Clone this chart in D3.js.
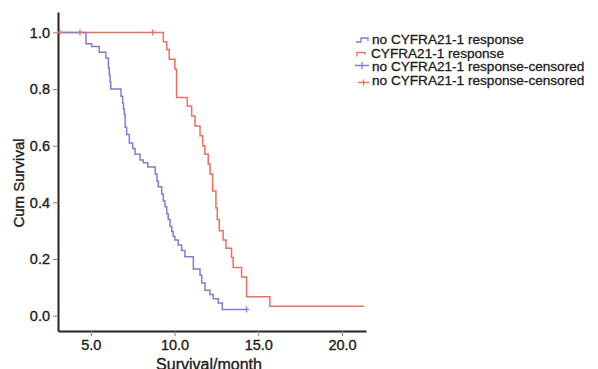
<!DOCTYPE html>
<html>
<head>
<meta charset="utf-8">
<script src="https://cdn.jsdelivr.net/npm/d3@7/dist/d3.min.js"></script>
<style>
  body { margin: 0; background: #fff; }
  svg { display: block; font-family: "Liberation Sans", Arial, sans-serif; }
</style>
</head>
<body>
<svg id="chart" width="598" height="369"></svg>
<script>
// step points: [time in months, cumulative survival after the event]
const startTime = 3.05;
const noResponse = [
  [4.71, 0.96], [5.05, 0.95], [5.50, 0.93], [5.90, 0.91], [6.05, 0.875],
  [6.10, 0.85], [6.15, 0.825], [6.19, 0.80], [6.80, 0.775], [6.90, 0.75],
  [6.95, 0.73], [7.00, 0.71], [7.05, 0.665], [7.14, 0.64], [7.30, 0.61],
  [7.50, 0.59], [7.64, 0.57], [7.94, 0.55], [8.13, 0.54], [8.40, 0.525],
  [8.85, 0.50], [8.95, 0.475], [9.03, 0.455], [9.23, 0.43], [9.33, 0.405],
  [9.43, 0.385], [9.53, 0.36], [9.62, 0.34], [9.73, 0.315], [9.83, 0.297],
  [9.92, 0.28], [10.02, 0.267], [10.22, 0.25], [10.42, 0.23], [10.62, 0.208],
  [11.12, 0.165], [11.52, 0.143], [11.62, 0.115], [11.82, 0.09], [12.11, 0.075],
  [12.31, 0.06], [12.61, 0.045], [12.85, 0.022]
];
const noResponseEnd = 14.3;
const response = [
  [9.33, 0.967], [9.53, 0.94], [9.68, 0.905], [10.02, 0.87], [10.12, 0.77],
  [10.76, 0.74], [11.02, 0.705], [11.22, 0.67], [11.52, 0.635], [11.68, 0.60],
  [11.81, 0.57], [12.01, 0.535], [12.12, 0.50], [12.27, 0.44], [12.47, 0.38],
  [12.55, 0.34], [12.67, 0.30], [12.90, 0.267], [13.07, 0.238], [13.40, 0.205],
  [13.50, 0.17], [14.00, 0.137], [14.30, 0.067], [15.69, 0.033]
];
const responseEnd = 21.3;
const censoredNoResponse = [[14.3, 0.022]];
const censoredResponse = [[3.15, 1.0], [4.35, 1.0], [8.7, 1.0]];

const xTicks = [5, 10, 15, 20];
const yTicks = [0, 0.2, 0.4, 0.6, 0.8, 1.0];
const legendLabels = [
  "no CYFRA21-1 response",
  "CYFRA21-1 response",
  "no CYFRA21-1 response-censored",
  "no CYFRA21-1 response-censored"
];

const blue = "#857bd4";
const red = "#ec6f60";
const axisColor = "#2e2118";
const textColor = "#1e1a17";

const svg = d3.select("#chart");

const x = d3.scaleLinear().domain([3.04, 21.43]).range([58, 366]);
const y = d3.scaleLinear().domain([-0.054, 1.072]).range([331, 12]);

const xAxis = svg.append("g")
  .attr("transform", "translate(0,331)")
  .call(d3.axisBottom(x).tickValues(xTicks).tickFormat(d3.format(".1f")).tickSize(5).tickSizeOuter(0).tickPadding(4));
const yAxis = svg.append("g")
  .attr("transform", "translate(58,0)")
  .call(d3.axisLeft(y).tickValues(yTicks).tickFormat(d3.format(".1f")).tickSize(5).tickSizeOuter(0).tickPadding(3));

[xAxis, yAxis].forEach(g => {
  g.select(".domain").attr("stroke", axisColor).attr("stroke-width", 2);
  g.selectAll(".tick line").attr("stroke", "#8a8078").attr("stroke-width", 1);
  g.selectAll(".tick text")
    .attr("fill", textColor)
    .attr("stroke", textColor)
    .attr("stroke-width", 0.35)
    .attr("font-size", 14.5)
    .attr("font-family", "Liberation Sans, Arial, sans-serif");
});

// axis titles
svg.append("text")
  .attr("transform", "translate(24,183) rotate(-90)")
  .attr("text-anchor", "middle")
  .attr("font-size", 15)
  .attr("fill", textColor)
  .attr("stroke", textColor)
  .attr("stroke-width", 0.35)
  .text("Cum Survival");

svg.append("text")
  .attr("x", 209)
  .attr("y", 369.5)
  .attr("text-anchor", "middle")
  .attr("font-size", 16)
  .attr("fill", textColor)
  .attr("stroke", textColor)
  .attr("stroke-width", 0.35)
  .text("Survival/month");

// survival curves
function stepPoints(steps, end) {
  const pts = [[startTime, 1]].concat(steps);
  pts.push([end, steps[steps.length - 1][1]]);
  return pts;
}
const line = d3.line()
  .x(d => x(d[0]))
  .y(d => y(d[1]))
  .curve(d3.curveStepAfter);

svg.append("path")
  .datum(stepPoints(response, responseEnd))
  .attr("fill", "none")
  .attr("stroke", red)
  .attr("stroke-width", 1.5)
  .attr("d", line);

svg.append("path")
  .datum(stepPoints(noResponse, noResponseEnd))
  .attr("fill", "none")
  .attr("stroke", blue)
  .attr("stroke-width", 1.5)
  .attr("d", line);

// censor marks
function censor(data, color) {
  svg.append("g").selectAll("path")
    .data(data)
    .enter().append("path")
      .attr("d", d => "M" + (x(d[0]) - 2.5) + "," + y(d[1]) + "h5M" + x(d[0]) + "," + (y(d[1]) - 3) + "v6")
      .attr("stroke", color)
      .attr("stroke-width", 1.3)
      .attr("fill", "none");
}
censor(censoredResponse, red);
censor(censoredNoResponse, blue);

// legend
const legendY = [44, 57.5, 71, 84.5];
const legendColors = [blue, red, blue, red];
const legend = svg.append("g")
  .selectAll("g")
  .data(legendLabels)
  .enter().append("g")
    .attr("transform", (d, i) => "translate(0," + legendY[i] + ")");

legend.append("path")
  .attr("d", (d, i) => {
    if (i === 0) return "M356,-2 h5 v-4 h7 v3";
    if (i === 1) return "M357,-1 v-4 h8 v2";
    if (i === 2) return "M355,-5.5 h14 M362,-9 v7";
    return "M358,-2 h11 M363.5,-5 v6";
  })
  .attr("stroke", (d, i) => legendColors[i])
  .attr("stroke-width", 1.3)
  .attr("fill", "none");

legend.append("text")
  .attr("x", (d, i) => i === 1 ? 371 : 372)
  .attr("font-size", 13.6)
  .attr("fill", textColor)
  .attr("stroke", textColor)
  .attr("stroke-width", 0.3)
  .text(d => d);
</script>
</body>
</html>
